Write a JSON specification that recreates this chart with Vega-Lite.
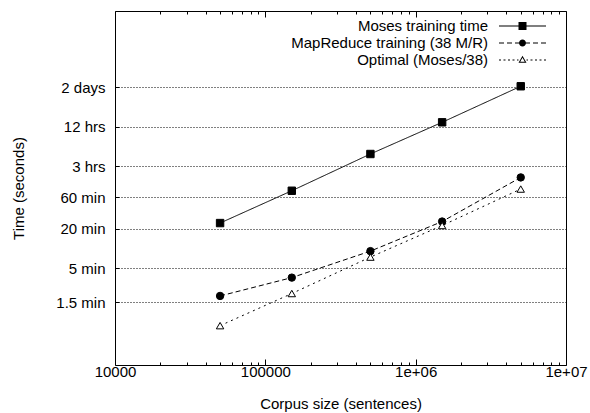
{
  "$schema": "https://vega.github.io/schema/vega-lite/v6.json",
  "width": 451,
  "height": 354,
  "autosize": {"type": "none"},
  "padding": {"left": 115, "top": 11, "right": 24, "bottom": 48},
  "background": "white",
  "config": {
    "font": "Liberation Sans",
    "view": {"stroke": "black", "strokeWidth": 1},
    "axis": {
      "labelFont": "Liberation Sans", "labelFontSize": 15, "labelColor": "black",
      "titleFont": "Liberation Sans", "titleFontSize": 15, "titleFontWeight": "normal", "titleColor": "black",
      "tickColor": "black", "tickWidth": 1, "domain": false
    }
  },
  "data": {"values": [
    {"series": "Moses training time", "size": 50000, "time": 1460},
    {"series": "Moses training time", "size": 150000, "time": 4540},
    {"series": "Moses training time", "size": 500000, "time": 16500},
    {"series": "Moses training time", "size": 1500000, "time": 50200},
    {"series": "Moses training time", "size": 5000000, "time": 178000},
    {"series": "MapReduce training (38 M/R)", "size": 50000, "time": 113},
    {"series": "MapReduce training (38 M/R)", "size": 150000, "time": 215},
    {"series": "MapReduce training (38 M/R)", "size": 500000, "time": 545},
    {"series": "MapReduce training (38 M/R)", "size": 1500000, "time": 1540},
    {"series": "MapReduce training (38 M/R)", "size": 5000000, "time": 7250},
    {"series": "Optimal (Moses/38)", "size": 50000, "time": 39.8},
    {"series": "Optimal (Moses/38)", "size": 150000, "time": 123},
    {"series": "Optimal (Moses/38)", "size": 500000, "time": 442},
    {"series": "Optimal (Moses/38)", "size": 1500000, "time": 1340},
    {"series": "Optimal (Moses/38)", "size": 5000000, "time": 4820}
  ]},
  "layer": [
    {
      "mark": {"type": "line", "color": "black", "strokeWidth": 1},
      "encoding": {
        "x": {"field": "size", "type": "quantitative",
          "scale": {"type": "log", "domain": [10000, 10000000], "nice": false},
          "axis": {
            "orient": "bottom",
            "values": [10000,20000,30000,40000,50000,60000,70000,80000,90000,100000,200000,300000,400000,500000,600000,700000,800000,900000,1000000,2000000,3000000,4000000,5000000,6000000,7000000,8000000,9000000,10000000],
            "labelExpr": "datum.value == 10000 ? '10000' : datum.value == 100000 ? '100000' : datum.value == 1000000 ? '1e+06' : datum.value == 10000000 ? '1e+07' : ''",
            "tickSize": {"condition": {"test": "datum.value == 10000 || datum.value == 100000 || datum.value == 1000000 || datum.value == 10000000", "value": -6}, "value": -3},
            "labelPadding": 5, "labelOverlap": false, "labelFlush": false, "labelBound": false,
            "grid": false,
            "title": "Corpus size (sentences)", "titlePadding": 14
          }
        },
        "y": {"field": "time", "type": "quantitative",
          "scale": {"type": "log", "domain": [10, 2500000], "nice": false},
          "axis": {
            "values": [90, 300, 1200, 3600, 10800, 43200, 172800],
            "labelExpr": "datum.value == 90 ? '1.5 min' : datum.value == 300 ? '5 min' : datum.value == 1200 ? '20 min' : datum.value == 3600 ? '60 min' : datum.value == 10800 ? '3 hrs' : datum.value == 43200 ? '12 hrs' : '2 days'",
            "grid": true, "gridDash": [1, 2], "gridColor": "black", "gridWidth": 1, "gridOpacity": 1,
            "tickSize": -4, "labelPadding": 14, "labelOverlap": false,
            "title": "Time (seconds)", "titlePadding": 29
          }
        },
        "strokeDash": {"field": "series", "type": "nominal",
          "scale": {"domain": ["Moses training time", "MapReduce training (38 M/R)", "Optimal (Moses/38)"], "range": [[1, 0], [5, 3], [2, 4]]},
          "legend": null}
      }
    },
    {
      "mark": {"type": "point", "filled": false, "stroke": "black", "strokeWidth": 1, "opacity": 1, "size": 55},
      "encoding": {
        "x": {"field": "size", "type": "quantitative",
          "scale": {"type": "log", "domain": [10000, 10000000], "nice": false},
          "axis": {
            "orient": "top",
            "values": [10000,20000,30000,40000,50000,60000,70000,80000,90000,100000,200000,300000,400000,500000,600000,700000,800000,900000,1000000,2000000,3000000,4000000,5000000,6000000,7000000,8000000,9000000,10000000],
            "tickSize": {"condition": {"test": "datum.value == 10000 || datum.value == 100000 || datum.value == 1000000 || datum.value == 10000000", "value": -6}, "value": -3},
            "labels": false, "grid": false, "title": null
          }
        },
        "y": {"field": "time", "type": "quantitative",
          "scale": {"type": "log", "domain": [10, 2500000], "nice": false},
          "axis": null},
        "fill": {"condition": {"test": "datum.series == 'Optimal (Moses/38)'", "value": "white"}, "value": "black"},
        "shape": {"field": "series", "type": "nominal",
          "scale": {"domain": ["Moses training time", "MapReduce training (38 M/R)", "Optimal (Moses/38)"], "range": ["square", "circle", "triangle-up"]},
          "legend": null}
      }
    },
    {
      "mark": {"type": "point", "filled": true, "color": "black", "opacity": 0, "size": 100},
      "encoding": {
        "x": {"field": "size", "type": "quantitative",
          "scale": {"type": "log", "domain": [10000, 10000000], "nice": false},
          "axis": null},
        "y": {"field": "time", "type": "quantitative",
          "scale": {"type": "log", "domain": [10, 2500000], "nice": false},
          "axis": null},
        "shape": {"field": "series", "type": "nominal",
          "scale": {"domain": ["Moses training time", "MapReduce training (38 M/R)", "Optimal (Moses/38)"],
            "range": [
              "M-4.7,-0.1H4.7V0.1H-4.7Z M-0.8,-0.8H0.8V0.8H-0.8Z",
              "M-4.7,-0.1H-3.7V0.1H-4.7Z M-3.1,-0.1H-2.1V0.1H-3.1Z M-1.5,-0.1H-0.5V0.1H-1.5Z M0.5,-0.1H1.5V0.1H0.5Z M2.1,-0.1H3.1V0.1H2.1Z M3.7,-0.1H4.7V0.1H3.7Z M-0.7,0A0.7,0.7 0 1,1 0.7,0A0.7,0.7 0 1,1 -0.7,0Z",
              "M-4.7,-0.1H-4.3V0.1H-4.7Z M-3.8,-0.1H-3.4V0.1H-3.8Z M-2.9,-0.1H-2.5V0.1H-2.9Z M-2,-0.1H-1.6V0.1H-2Z M-1.1,-0.1H-0.8V0.1H-1.1Z M0.8,-0.1H1.1V0.1H0.8Z M1.6,-0.1H2V0.1H1.6Z M2.5,-0.1H2.9V0.1H2.5Z M3.4,-0.1H3.8V0.1H3.4Z M4.3,-0.1H4.7V0.1H4.3Z M0,-0.85L0.8,0.55L-0.8,0.55Z M0,-0.447L-0.455,0.35L0.455,0.35Z"
            ]},
          "legend": {
            "title": null, "orient": "none", "legendX": 400, "legendY": 7.5, "padding": 0,
            "symbolSize": 100, "symbolStrokeColor": "transparent", "symbolStrokeWidth": 1,
            "symbolFillColor": "black", "symbolOpacity": 1,
            "labelAlign": "right", "labelOffset": -42, "labelLimit": 300,
            "labelFont": "Liberation Sans", "labelFontSize": 15, "labelColor": "black",
            "rowPadding": 1
          }
        }
      }
    }
  ],
  "resolve": {"axis": {"x": "independent", "y": "independent"}, "scale": {"shape": "independent"}}
}
